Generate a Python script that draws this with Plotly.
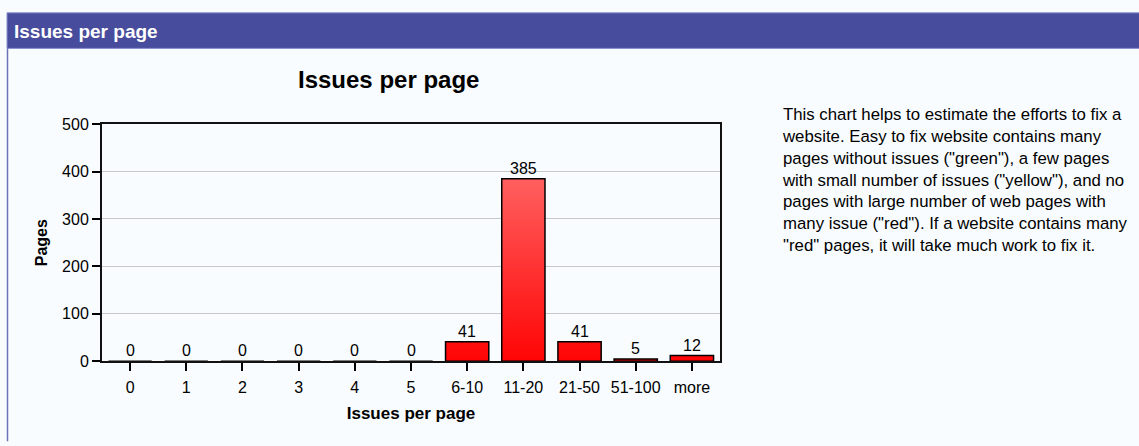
import plotly.graph_objects as go

categories = ["0", "1", "2", "3", "4", "5", "6-10", "11-20", "21-50", "51-100", "more"]
pages = [0, 0, 0, 0, 0, 0, 41, 385, 41, 5, 12]
y_ticks = [0, 100, 200, 300, 400, 500]

description_lines = [
    "This chart helps to estimate the efforts to fix a",
    "website. Easy to fix website contains many",
    "pages without issues (\"green\"), a few pages",
    "with small number of issues (\"yellow\"), and no",
    "pages with large number of web pages with",
    "many issue (\"red\"). If a website contains many",
    "\"red\" pages, it will take much work to fix it.",
]

W, H = 1139, 446
FONT = "Liberation Sans, Arial, sans-serif"
BAR_W = 0.77
vmax = max(pages)

fig = go.Figure()

for i, v in enumerate(pages):
    x0, x1 = i - BAR_W / 2, i + BAR_W / 2
    fig.add_trace(go.Scatter(
        x=[x0, x1, x1, x0, x0],
        y=[0, 0, v, v, 0],
        mode="lines",
        fill="toself",
        fillgradient=dict(type="vertical",
                          colorscale=[[0, "#FF0000"], [1, "#FF5E5E"]],
                          start=0, stop=vmax),
        line=dict(color="#000000", width=1.5),
        showlegend=False,
        hoverinfo="skip",
    ))

annotations = []
for i, v in enumerate(pages):
    annotations.append(dict(
        x=i, y=v, xref="x", yref="y", text=str(v), showarrow=False,
        yanchor="bottom", xanchor="center", yshift=0,
        font=dict(family=FONT, size=16, color="#000000"),
    ))

# chart title
annotations.append(dict(
    x=388 / W, y=1 - 74 / H, xref="paper", yref="paper",
    text="<b>Issues per page</b>", showarrow=False,
    xanchor="center", yanchor="middle",
    font=dict(family=FONT, size=24, color="#000000"),
))
# header text
annotations.append(dict(
    x=12 / W, y=1 - 24 / H, xref="paper", yref="paper",
    text="<b>Issues per page</b>", showarrow=False,
    xanchor="left", yanchor="middle",
    font=dict(family=FONT, size=19, color="#FFFFFF"),
))
# description
annotations.append(dict(
    x=780 / W, y=1 - 99 / H, xref="paper", yref="paper",
    text="<br>".join(description_lines), showarrow=False,
    xanchor="left", yanchor="top", align="left",
    font=dict(family=FONT, size=16.8, color="#000000"),
))

shapes = [
    dict(type="rect", xref="paper", yref="paper",
         x0=7 / W, x1=1.01, y0=1 - 42 / H, y1=1 - 5 / H,
         fillcolor="#474C9C", line=dict(color="#8C90D0", width=1), layer="below"),
    dict(type="line", xref="paper", yref="paper",
         x0=7.5 / W, x1=7.5 / W, y0=-0.01, y1=1 - 42 / H,
         line=dict(color="#6D72B8", width=1.5)),
]

fig.update_layout(
    width=W, height=H,
    margin=dict(l=0, r=0, t=0, b=0),
    paper_bgcolor="#F8FCFE",
    plot_bgcolor="#F8FCFE",
    font=dict(family=FONT, size=16, color="#000000"),
    showlegend=False,
    annotations=annotations,
    shapes=shapes,
    xaxis=dict(
        domain=[102 / W, 720 / W],
        range=[-0.5, len(categories) - 0.5],
        tickvals=list(range(len(categories))),
        ticktext=categories,
        ticks="outside", ticklen=8, tickwidth=1.5, tickcolor="#000000",
        ticklabelstandoff=3,
        showline=True, linecolor="#111111", linewidth=2, mirror=True,
        showgrid=False, zeroline=False,
        tickfont=dict(family=FONT, size=16, color="#000000"),
        title=dict(text="<b>Issues per page</b>", standoff=12,
                   font=dict(family=FONT, size=17, color="#000000")),
        fixedrange=True,
    ),
    yaxis=dict(
        domain=[1 - 367.3 / H, 1 - 120.7 / H],
        range=[0, 500],
        tickvals=y_ticks,
        ticks="outside", ticklen=8, tickwidth=1.5, tickcolor="#000000",
        showline=True, linecolor="#111111", linewidth=2, mirror=True,
        showgrid=True, gridcolor="#C8C8C8", gridwidth=1,
        zeroline=False,
        tickfont=dict(family=FONT, size=16, color="#000000"),
        title=dict(text="<b>Pages</b>", standoff=10,
                   font=dict(family=FONT, size=16, color="#000000")),
        fixedrange=True,
    ),
)

fig.write_html(
    "out.html",
    config={"displayModeBar": False},
    post_script="document.body.style.margin='0';document.body.style.background='#FFFFFF';",
)
